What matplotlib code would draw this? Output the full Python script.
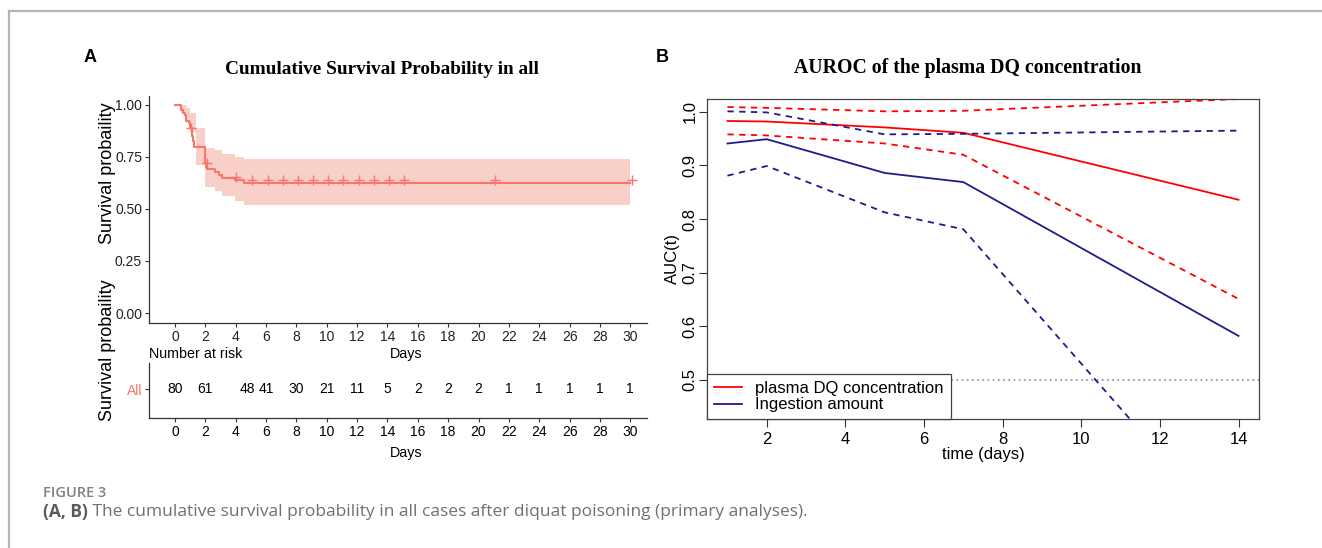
import numpy as np
import matplotlib
matplotlib.use("Agg")
import matplotlib.pyplot as plt
from matplotlib import font_manager
from matplotlib.lines import Line2D

# ---- panel A: Kaplan-Meier, all cases ----
km_t = [0, 0.42, 0.55, 0.65, 0.75, 0.9, 1.0, 1.1, 1.2, 1.25, 2.0, 2.05, 2.1, 2.66, 2.9, 3.13, 3.95, 4.54, 30]
km_s = [1.0, 0.975, 0.9625, 0.95, 0.925, 0.9125, 0.8875, 0.85, 0.825, 0.80, 0.72, 0.70, 0.69,
        0.678, 0.665, 0.65, 0.6375, 0.625, 0.625]

band_t = [0, 0.42, 0.8, 1.0, 1.37, 2.0, 2.66, 3.13, 3.95, 4.54, 30]
band_hi = [1.0, 1.0, 0.985, 0.96, 0.89, 0.795, 0.784, 0.763, 0.75, 0.74, 0.74]
band_lo = [1.0, 0.96, 0.92, 0.87, 0.71, 0.607, 0.587, 0.56, 0.538, 0.521, 0.521]

cens_t = [1.08, 2.1, 4.05, 5.1, 6.1, 7.1, 8.1, 9.1, 10.1, 11.1, 12.1, 13.1, 14.1, 15.1, 21.1, 30.1]
cens_s = [0.89, 0.72, 0.655, 0.64, 0.64, 0.64, 0.64, 0.64, 0.64, 0.64, 0.64, 0.64, 0.64, 0.64, 0.64, 0.64]

risk_days = [0, 2, 4.8, 6, 8, 10, 12, 14, 16, 18, 20, 22, 24, 26, 28, 30]
risk_n = [80, 61, 48, 41, 30, 21, 11, 5, 2, 2, 2, 1, 1, 1, 1, 1]
day_ticks = list(range(0, 31, 2))
surv_ticks = [0.0, 0.25, 0.5, 0.75, 1.0]

# ---- panel B: time-dependent AUROC ----
auc_t = [1, 2, 5, 7, 14]
dq_auc = [0.983, 0.982, 0.971, 0.961, 0.836]
dq_hi = [1.009, 1.0075, 1.001, 1.002, 1.024]
dq_lo = [0.958, 0.956, 0.941, 0.920, 0.651]
ing_auc = [0.941, 0.949, 0.886, 0.869, 0.582]
ing_hi = [1.001, 0.999, 0.958, 0.959, 0.965]
ing_lo = [0.881, 0.899, 0.8125, 0.781, 0.196]

KM_COL = "#F8766D"
RED = "#FF0000"
BLUE = "#1C1C8C"

names = {f.name for f in font_manager.fontManager.ttflist}
if "Liberation Sans Narrow" in names:
    NARROW, nsz = "Liberation Sans Narrow", 11.5
else:
    NARROW, nsz = "Liberation Sans", 10
plt.rcParams["font.family"] = ["Liberation Sans", "DejaVu Sans"]

W, H = 1322, 548
fig = plt.figure(figsize=(W / 100, H / 100), dpi=100)


def rect(l, t, r, b):
    return [l / W, 1 - b / H, (r - l) / W, (b - t) / H]


# frame around the figure
fig.add_artist(Line2D([9 / W, 1], [1 - 11 / H, 1 - 11 / H], color="#B5B5B5", lw=1.6))
fig.add_artist(Line2D([9 / W, 9 / W], [0, 1 - 11 / H], color="#B5B5B5", lw=1.6))

# KM plot
ax = fig.add_axes(rect(149, 96, 647, 323))
ax.fill_between(band_t, band_lo, band_hi, step="post", color="#F8D0C8", lw=0)
ax.step(km_t, km_s, where="post", color=KM_COL, lw=1.5)
ax.plot(cens_t, cens_s, ls="none", marker="+", ms=7, mew=1.0, color=KM_COL)
ax.set_xlim(-1.71, 31.1)
ax.set_ylim(-0.048, 1.043)
ax.set_xticks(day_ticks)
ax.set_yticks(surv_ticks)
ax.set_yticklabels(["0.00", "0.25", "0.50", "0.75", "1.00"])
for s in ["top", "right"]:
    ax.spines[s].set_visible(False)
for s in ["left", "bottom"]:
    ax.spines[s].set_color("#333333")
    ax.spines[s].set_linewidth(0.9)
ax.tick_params(length=3, width=0.8, color="#333333", pad=2)
for lab in ax.get_xticklabels() + ax.get_yticklabels():
    lab.set_fontfamily(NARROW)
    lab.set_fontsize(nsz)
    lab.set_color("#222222")

# risk table
rx = fig.add_axes(rect(149, 363, 647, 418))
rx.set_xlim(-1.71, 31.1)
rx.set_ylim(0, 1)
for d, n in zip(risk_days, risk_n):
    rx.text(d, 0.52, str(n), ha="center", va="center", fontfamily=NARROW, fontsize=nsz)
rx.set_xticks(day_ticks)
rx.set_yticks([0.52])
rx.set_yticklabels(["All"])
rx.get_yticklabels()[0].set_color(KM_COL)
for s in ["top", "right"]:
    rx.spines[s].set_visible(False)
for s in ["left", "bottom"]:
    rx.spines[s].set_color("#333333")
    rx.spines[s].set_linewidth(0.9)
rx.tick_params(length=3, width=0.8, color="#333333", pad=2)
for lab in rx.get_xticklabels() + rx.get_yticklabels():
    lab.set_fontfamily(NARROW)
    lab.set_fontsize(nsz)

fig.text(149 / W, 1 - 354 / H, "Number at risk", ha="left", va="center", fontfamily=NARROW, fontsize=nsz + 0.3)
fig.text(406 / W, 1 - 354 / H, "Days", ha="center", va="center", fontfamily=NARROW, fontsize=nsz + 0.3)
fig.text(406 / W, 1 - 453 / H, "Days", ha="center", va="center", fontfamily=NARROW, fontsize=nsz + 0.3)
fig.text(107 / W, 1 - 173 / H, "Survival probaility", rotation=90, ha="center", va="center", fontsize=13)
fig.text(107 / W, 1 - 350 / H, "Survival probaility", rotation=90, ha="center", va="center", fontsize=13)
fig.text(382 / W, 1 - 70 / H, "Cumulative Survival Probability in all", ha="center", va="center",
         fontfamily="Liberation Serif", fontweight="bold", fontsize=13.9)
fig.text(90 / W, 1 - 57 / H, "A", ha="center", va="center", fontweight="bold", fontsize=13)

# AUROC plot
bx = fig.add_axes(rect(707, 99, 1259, 419))
bx.axhline(0.5, color="#888888", ls=(0, (1.2, 2.2)), lw=1.1, zorder=1)
bx.plot(auc_t, dq_auc, color=RED, lw=1.3, label="plasma DQ concentration")
bx.plot(auc_t, dq_hi, color=RED, lw=1.3, ls=(0, (3.5, 3)))
bx.plot(auc_t, dq_lo, color=RED, lw=1.3, ls=(0, (3.5, 3)))
bx.plot(auc_t, ing_auc, color=BLUE, lw=1.3, label="Ingestion amount")
bx.plot(auc_t, ing_hi, color=BLUE, lw=1.3, ls=(0, (3.5, 3)))
bx.plot(auc_t, ing_lo, color=BLUE, lw=1.3, ls=(0, (3.5, 3)))
bx.set_xlim(0.48, 14.52)
bx.set_ylim(0.427, 1.024)
bx.set_xticks([2, 4, 6, 8, 10, 12, 14])
bx.set_yticks([0.5, 0.6, 0.7, 0.8, 0.9, 1.0])
bx.set_yticklabels(["0.5", "0.6", "0.7", "0.8", "0.9", "1.0"], rotation=90, va="center")
bx.tick_params(length=6, width=0.8, color="#333333", labelsize=12)
bx.tick_params(axis="y", pad=1)
for s in bx.spines.values():
    s.set_color("#444444")
    s.set_linewidth(0.9)
bx.set_xlabel("time (days)", fontsize=12, labelpad=0)
bx.set_ylabel("AUC(t)", fontsize=12, labelpad=2)
leg = bx.legend(loc="lower left", bbox_to_anchor=(0, 0), borderaxespad=0, fontsize=12,
                fancybox=False, edgecolor="#444444", framealpha=1, handlelength=1.7,
                handletextpad=0.8, borderpad=0.4, labelspacing=0.1)
leg.get_frame().set_linewidth(0.9)
fig.text(968 / W, 1 - 68 / H, "AUROC of the plasma DQ concentration", ha="center", va="center",
         fontfamily="Liberation Serif", fontweight="bold", fontsize=14.2)
fig.text(662 / W, 1 - 57 / H, "B", ha="center", va="center", fontweight="bold", fontsize=13)

# caption
fig.text(43 / W, 1 - 493 / H, "FIGURE 3", ha="left", va="center", fontfamily="Open Sans",
         fontsize=10.5, color="#808080", fontweight="semibold")
t1 = fig.text(43 / W, 1 - 512 / H, "(A, B)", ha="left", va="center", fontfamily="Open Sans",
              fontsize=12.5, color="#5A5A5A", fontweight="bold")
ax.annotate(" The cumulative survival probability in all cases after diquat poisoning (primary analyses).",
            xy=(1, 0.5), xycoords=t1, ha="left", va="center", fontfamily="Open Sans",
            fontsize=12.5, color="#707070", annotation_clip=False)

fig.savefig("out.png", dpi=100)
